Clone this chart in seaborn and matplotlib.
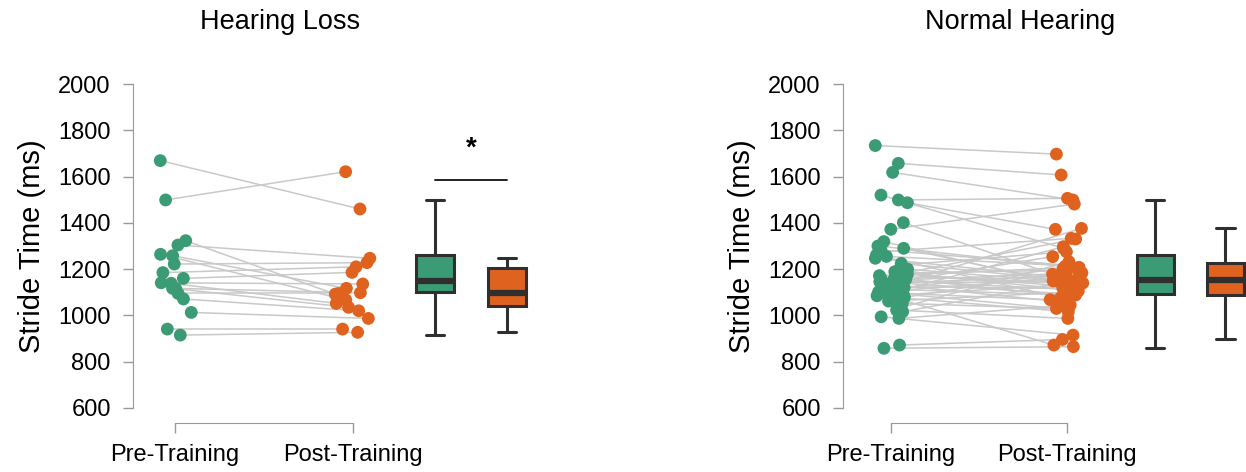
import numpy as np
import pandas as pd
import seaborn as sns
import matplotlib.pyplot as plt

conditions = ["Pre-Training", "Post-Training"]
y_ticks = [600, 800, 1000, 1200, 1400, 1600, 1800, 2000]

# Hearing Loss group, paired by subject
hl_pre = [1669, 1499, 1323, 1304, 1264, 1258, 1222, 1185, 1160, 1141, 1139,
          1117, 1117, 1095, 1071, 1013, 941, 915]
hl_post = [1460, 1621, 1092, 1247, 1067, 1117, 1228, 1210, 1186, 1136, 1052,
           1098, 1035, 1095, 1020, 987, 941, 927]

# Normal Hearing group, paired by subject
nh_pre = [858, 872, 987, 994, 1016, 1023, 1030, 1052, 1062, 1070, 1078, 1085,
          1090, 1093, 1097, 1102, 1108, 1114, 1120, 1125, 1130, 1135, 1139,
          1143, 1146, 1148, 1150, 1152, 1157, 1162, 1168, 1172, 1178, 1183,
          1189, 1200, 1218, 1225, 1247, 1255, 1261, 1275, 1283, 1290, 1300,
          1319, 1372, 1401, 1487, 1499, 1520, 1618, 1657, 1734]
nh_post = [865, 896, 1045, 915, 1150, 987, 1232, 1030, 1100, 872,
           1190, 1016, 1135, 1297, 1068, 1026, 1160, 1088, 1203, 1118,
           1376, 1058, 1172, 1144, 1093, 1254, 1112, 1184, 1083, 1330,
           1140, 1208, 1124, 1196, 1106, 1147, 1275, 1154, 1166, 1214,
           1076, 1333, 1216, 1149, 1212, 1130, 1481, 1178, 1372, 1506,
           1290, 1499, 1607, 1697]

pre_color = "#3a9b74"
post_color = "#e0621f"
line_gray = "#c9c9c9"
box_edge = "#2f2f2f"
spine_gray = "#999999"

sns.set_style("ticks")
plt.rcParams["font.family"] = ["Liberation Sans", "DejaVu Sans"]
plt.rcParams["text.color"] = "black"
plt.rcParams["axes.labelcolor"] = "black"

W, H = 1246, 472
fig = plt.figure(figsize=(W / 100, H / 100), dpi=100)
rng = np.random.default_rng(3)


def panel(ax, pre, post, box_pos, xlim, sig=False):
    n = len(pre)
    df = pd.DataFrame({
        "subject": np.tile(np.arange(n), 2),
        "condition": np.repeat(conditions, n),
        "stride": np.concatenate([pre, post]),
    })
    df["x"] = np.repeat([0.0, 1.0], n) + rng.uniform(-0.1, 0.1, 2 * n)

    sns.lineplot(data=df, x="x", y="stride", units="subject", estimator=None,
                 sort=False, color=line_gray, lw=1.1, ax=ax, zorder=1)
    sns.scatterplot(data=df, x="x", y="stride", hue="condition",
                    palette=[pre_color, post_color], s=85, linewidth=0,
                    legend=False, ax=ax, zorder=2)
    for cond, pos, col in zip(conditions, box_pos, [pre_color, post_color]):
        vals = df.loc[df.condition == cond, "stride"].values
        sns.boxplot(x=np.full(len(vals), pos), y=vals, orient="x",
                    native_scale=True, width=0.21, color=col, saturation=1,
                    showfliers=False, linewidth=2.2, linecolor=box_edge,
                    medianprops={"linewidth": 4.5, "color": box_edge}, ax=ax)

    if sig:
        ax.plot(box_pos, [1585, 1585], color="#111111", lw=1.3)
        ax.text(np.mean(box_pos), 1722, "*", ha="center", va="center",
                fontsize=20, fontweight="bold")

    ax.set_xlim(xlim)
    ax.set_ylim(600, 2000)
    ax.set_yticks(y_ticks)
    ax.set_xticks([0, 1])
    ax.set_xticklabels(conditions)
    ax.set_xlabel("")
    ax.set_ylabel("Stride Time (ms)", fontsize=21, labelpad=9)
    ax.tick_params(axis="both", colors=spine_gray, length=7, width=1,
                   labelsize=17, labelcolor="black")
    ax.tick_params(axis="y", pad=9)
    ax.tick_params(axis="x", pad=8)
    for s in ax.spines.values():
        s.set_color(spine_gray)
    sns.despine(ax=ax, offset={"bottom": 11}, trim=True)


# left panel: 178 px per unit, right panel: 176 px per unit
y0, h = (H - 408) / H, 324 / H
xl_left = (-0.236, 2.1)
ax1 = fig.add_axes([133 / W, y0, (xl_left[1] - xl_left[0]) * 178 / W, h])
panel(ax1, hl_pre, hl_post, [1.46, 1.865], xl_left, sig=True)

xl_right = (-0.273, 2.1)
ax2 = fig.add_axes([843 / W, y0, (xl_right[1] - xl_right[0]) * 176 / W, h])
panel(ax2, nh_pre, nh_post, [1.5, 1.9], xl_right)

fig.text(280 / W, 1 - 22 / H, "Hearing Loss", ha="center", va="center", fontsize=19.5)
fig.text(1020 / W, 1 - 22 / H, "Normal Hearing", ha="center", va="center", fontsize=19.5)

fig.savefig("out.png", dpi=100, facecolor="white")
